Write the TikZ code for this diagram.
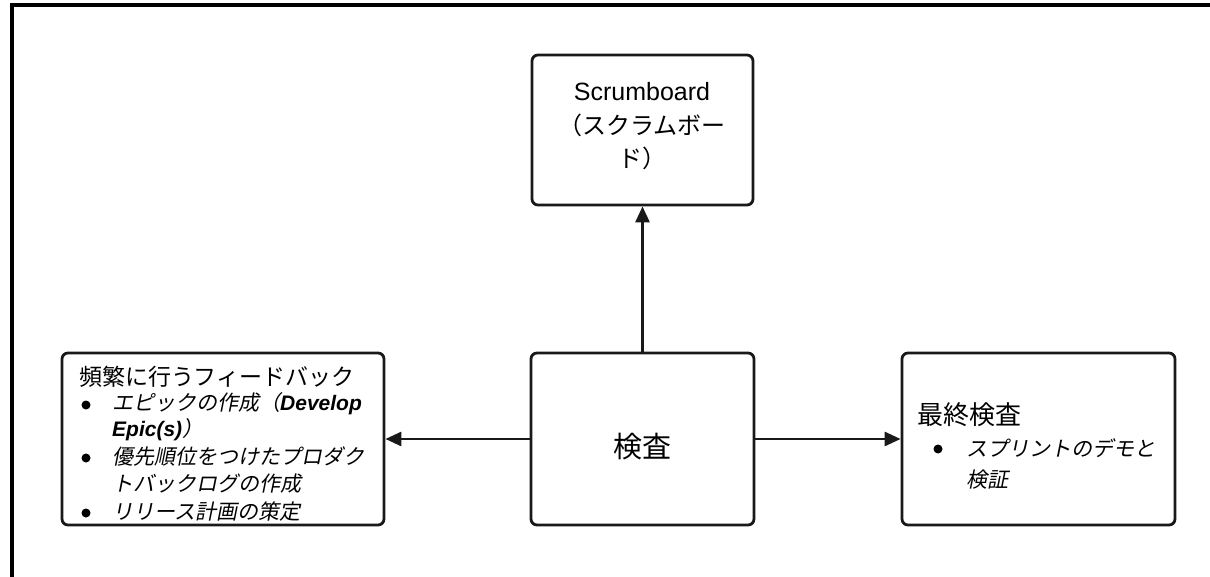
\documentclass[tikz,border=0pt]{standalone}
\usepackage{fontspec}
\setmainfont{Liberation Sans}
\newfontfamily\jp{Noto Sans CJK JP}
\newfontfamily\jpit[FakeSlant=0.2]{Noto Sans CJK JP}
\usetikzlibrary{arrows.meta}
\tikzset{
  box/.style={draw=black!90, line width=2.8pt, rounded corners=6pt, inner sep=0pt, fill=white},
  arr/.style={line width=2.8pt, draw=black!90, -{Triangle[length=16pt,width=14pt]}},
  txt/.style={inner sep=0pt, anchor=west},
  ctxt/.style={inner sep=0pt, anchor=center},
  bul/.style={circle, fill=black, inner sep=0pt, minimum size=9pt}
}
\begin{document}
\begin{tikzpicture}[x=1pt,y=-1pt]
\useasboundingbox (0,0) rectangle (1210,577);
% frame
\draw[line width=4pt] (11.5,577) -- (11.5,5.5) -- (1211,5.5);
% boxes
\node[box, minimum width=221pt, minimum height=150pt] (scrum) at (642.5,130) {};
\node[box, minimum width=223pt, minimum height=172pt] (insp) at (642.5,439) {};
\node[box, minimum width=322pt, minimum height=172pt] (fb) at (223,439) {};
\node[box, minimum width=273pt, minimum height=172pt] (fin) at (1038.5,439) {};
% arrows
\draw[arr] (insp.north) -- (scrum.south);
\draw[arr] (insp.west) -- (fb.east);
\draw[arr] (insp.east) -- (fin.west);
% scrum text
\node[ctxt, font=\fontsize{25}{30}\selectfont] (s1) at (642,92) {Scrumboard};
\node[ctxt, font=\fontsize{24}{30}\jp] (s2) at (642,125) {（スクラムボー};
\node[ctxt, font=\fontsize{24}{30}\jp] (s3) at (642,158) {ド）};
% inspection
\node[ctxt, font=\fontsize{29}{34}\jp] (i1) at (642,447) {検査};
% feedback box
\node[txt, font=\fontsize{23}{28}\jp] (f0) at (79,377) {頻繁に行うフィードバック};
\node[bul] (b1) at (86,405) {};
\node[txt, font=\fontsize{21}{26}\jpit] (f1) at (112,404) {エピックの作成（{\rmfamily\bfseries\itshape Develop}};
\node[txt, font=\fontsize{21}{26}\jpit] (f2) at (112,430) {{\rmfamily\bfseries\itshape Epic(s)}）};
\node[bul] (b2) at (86,458) {};
\node[txt, font=\fontsize{21}{26}\jpit] (f3) at (112,457) {優先順位をつけたプロダク};
\node[txt, font=\fontsize{21}{26}\jpit] (f4) at (112,484) {トバックログの作成};
\node[bul] (b3) at (86,513) {};
\node[txt, font=\fontsize{21}{26}\jpit] (f5) at (112,512) {リリース計画の策定};
% final box
\node[txt, font=\fontsize{26}{30}\jp] (r0) at (917,415) {最終検査};
\node[bul] (b4) at (938,449) {};
\node[txt, font=\fontsize{21}{26}\jpit] (r1) at (966,448) {スプリントのデモと};
\node[txt, font=\fontsize{21}{26}\jpit] (r2) at (966,480) {検証};
\end{tikzpicture}
\end{document}
